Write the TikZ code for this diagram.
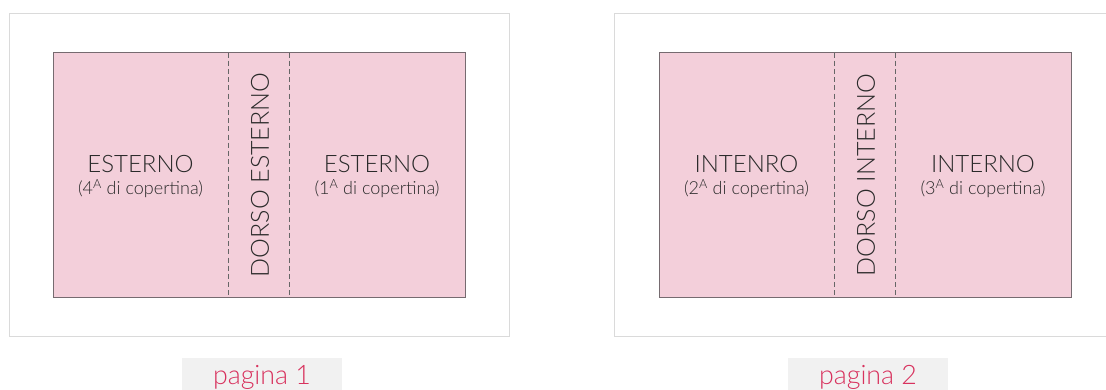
\documentclass[tikz,border=0pt]{standalone}
\usepackage{fontspec}
\IfFontExistsTF{Lato Light}{\setmainfont{Lato Light}}{\setmainfont{Lato}}
\definecolor{pinkfill}{HTML}{F3CFDA}
\definecolor{rectline}{HTML}{766B70}
\definecolor{frameline}{HTML}{DADADA}
\definecolor{dashline}{HTML}{666666}
\definecolor{labelbg}{HTML}{F1F1F1}
\definecolor{labeltext}{HTML}{D8325E}
\definecolor{textcol}{HTML}{2A2A2A}
\tikzset{
  frame/.style={draw=frameline, line width=1pt, fill=white},
  panel/.style={draw=rectline, line width=1pt, fill=pinkfill},
  fold/.style={draw=dashline, line width=0.9pt, dash pattern=on 5pt off 3.2pt},
  bigtext/.style={text=textcol, font=\fontsize{24}{26}\selectfont, inner sep=0pt, align=center},
  smalltext/.style={text=textcol, font=\fontsize{18}{20}\selectfont, inner sep=0pt},
  spine/.style={text=textcol, font=\fontsize{25}{27}\selectfont, inner sep=0pt, rotate=90},
  pagebox/.style={fill=labelbg, minimum width=160pt, minimum height=32pt, inner sep=0pt},
  pagetext/.style={text=labeltext, font=\fontsize{26.8}{29}\selectfont, inner sep=0pt}
}
\begin{document}
\begin{tikzpicture}[x=1pt,y=-1pt]
\useasboundingbox (0,0) rectangle (1106,389);
\begin{scope}
\clip (0,0) rectangle (1106,389);
% page 1
\draw[frame] (9,13) rectangle (509.5,336.5);
\draw[panel] (53,52.5) rectangle (465,297);
\coordinate (f1t) at (228,52.5); \coordinate (f1b) at (228,297);
\coordinate (f2t) at (289.5,52.5); \coordinate (f2b) at (289.5,297);
\draw[fold] (f1t) -- (f1b);
\draw[fold] (f2t) -- (f2b);
\node[bigtext] (e1) at (140.5,164) {ESTERNO};
\node[smalltext] (e1s) at (140.5,188.5) {(4\textsuperscript{A} di copertina)};
\node[bigtext] (e2) at (377,164) {ESTERNO};
\node[smalltext] (e2s) at (377,188.5) {(1\textsuperscript{A} di copertina)};
\node[spine] (d1) at (260,175) {DORSO ESTERNO};
\node[pagebox] (p1box) at (262,374) {};
\node[pagetext] (p1) at (262,377.5) {pagina 1};
% page 2
\draw[frame] (614.5,13) rectangle (1115,336.5);
\draw[panel] (659,52.5) rectangle (1071,297);
\coordinate (g1t) at (834,52.5); \coordinate (g1b) at (834,297);
\coordinate (g2t) at (895.5,52.5); \coordinate (g2b) at (895.5,297);
\draw[fold] (g1t) -- (g1b);
\draw[fold] (g2t) -- (g2b);
\node[bigtext] (i1) at (746.5,164) {INTENRO};
\node[smalltext] (i1s) at (746.5,188.5) {(2\textsuperscript{A} di copertina)};
\node[bigtext] (i2) at (983,164) {INTERNO};
\node[smalltext] (i2s) at (983,188.5) {(3\textsuperscript{A} di copertina)};
\node[spine] (d2) at (866,175) {DORSO INTERNO};
\node[pagebox] (p2box) at (868,374) {};
\node[pagetext] (p2) at (868,377.5) {pagina 2};
\end{scope}
\end{tikzpicture}
\end{document}
